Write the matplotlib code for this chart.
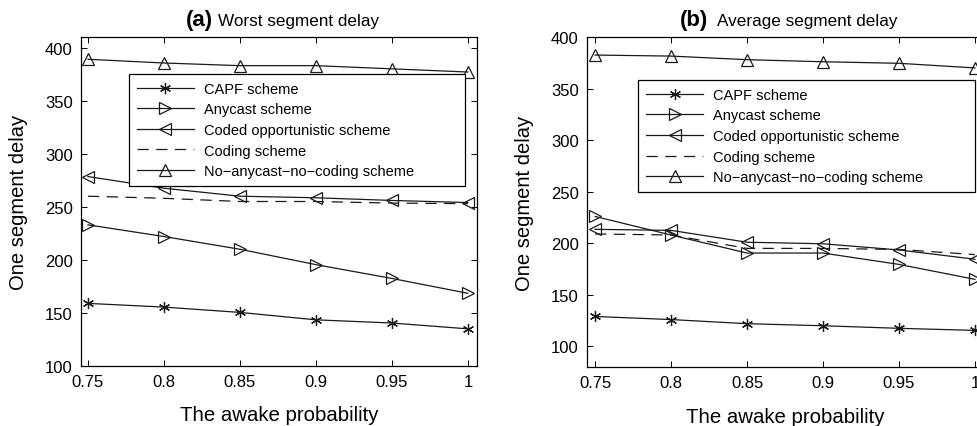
import matplotlib
matplotlib.use("Agg")
import matplotlib.pyplot as plt

plt.rcParams['font.family'] = ['Liberation Sans', 'DejaVu Sans']

# Data
awake = [0.75, 0.8, 0.85, 0.9, 0.95, 1.0]
labels = ["CAPF scheme", "Anycast scheme", "Coded opportunistic scheme",
          "Coding scheme", "No\u2212anycast\u2212no\u2212coding scheme"]

worst_capf = [159, 155.5, 150.5, 143.5, 140.5, 135]
worst_anycast = [233, 222, 210, 195.5, 182.5, 168.5]
worst_coded_opp = [278.5, 267.5, 260, 258.5, 256, 254]
worst_coding = [260, 258, 255, 255, 253.5, 253]
worst_noany = [389, 385.5, 383, 383, 380, 377]

avg_capf = [129, 126, 122, 120, 117.5, 115.5]
avg_anycast = [226, 208, 190.5, 190.5, 179.5, 165]
avg_coded_opp = [213.5, 212.5, 201, 199.5, 193.5, 184.5]
avg_coding = [209, 208, 195, 195, 194, 189]
avg_noany = [382.5, 381.5, 378, 376, 374.5, 370]

W, H = 977, 427
fig = plt.figure(figsize=(W / 100, H / 100), dpi=100)

asterisk = (6, 2, 0)
styles = [
    dict(marker=asterisk, linestyle='-'),
    dict(marker='>', linestyle='-'),
    dict(marker='<', linestyle='-'),
    dict(marker=None, linestyle=(0, (9, 6))),
    dict(marker='^', linestyle='-'),
]


def panel(rect, series, ylim, xlim, tag, title, tag_x, title_x, leg_box):
    ax = fig.add_axes(rect)
    for vals, lab, st in zip(series, labels, styles):
        ax.plot(awake, vals, color='#1a1a1a', linewidth=0.9, markersize=8,
                markerfacecolor='none', markeredgecolor='#1a1a1a',
                markeredgewidth=0.9, label=lab, clip_on=False, **st)
    ax.set_xlim(*xlim)
    ax.set_ylim(*ylim)
    ax.set_xticks(awake)
    ax.set_xticklabels(["0.75", "0.8", "0.85", "0.9", "0.95", "1"])
    ax.set_yticks(range(100, 401, 50))
    ax.tick_params(direction='in', top=True, right=True, labelsize=12,
                   length=4, width=0.7, pad=6)
    for s in ax.spines.values():
        s.set_linewidth(0.9)
    ax.set_xlabel("The awake probability", fontsize=14.7)
    ax.set_ylabel("One segment delay", fontsize=14.5)
    ax.xaxis.set_label_coords(0.5, -0.12)
    ax.yaxis.set_label_coords(-0.133, 0.5)
    ax.text(tag_x, 1.035, tag, transform=ax.transAxes, ha='right',
            va='baseline', fontsize=16, fontweight='bold')
    ax.text(title_x, 1.035, title, transform=ax.transAxes, ha='left',
            va='baseline', fontsize=12.3)
    leg = ax.legend(loc='upper left', bbox_to_anchor=leg_box, mode='expand',
                    borderaxespad=0, fontsize=10.5, labelspacing=0.45,
                    handlelength=3.9, handletextpad=0.7, borderpad=0.55,
                    fancybox=False, framealpha=1, edgecolor='black')
    leg.get_frame().set_linewidth(0.9)
    leg.set_zorder(5)
    return ax


panel([81 / W, (H - 367) / H, 396 / W, 329 / H],
      [worst_capf, worst_anycast, worst_coded_opp, worst_coding, worst_noany],
      (100, 410), (0.7454, 1.006), "(a)", "Worst segment delay",
      0.333, 0.346, (0.121, 0.55, 0.848, 0.338))

panel([587 / W, (H - 368) / H, 396 / W, 330 / H],
      [avg_capf, avg_anycast, avg_coded_opp, avg_coding, avg_noany],
      (80, 400), (0.7447, 1.0053), "(b)", "Average segment delay",
      0.306, 0.328, (0.129, 0.53, 0.851, 0.34))

fig.savefig("out.png", dpi=100)
